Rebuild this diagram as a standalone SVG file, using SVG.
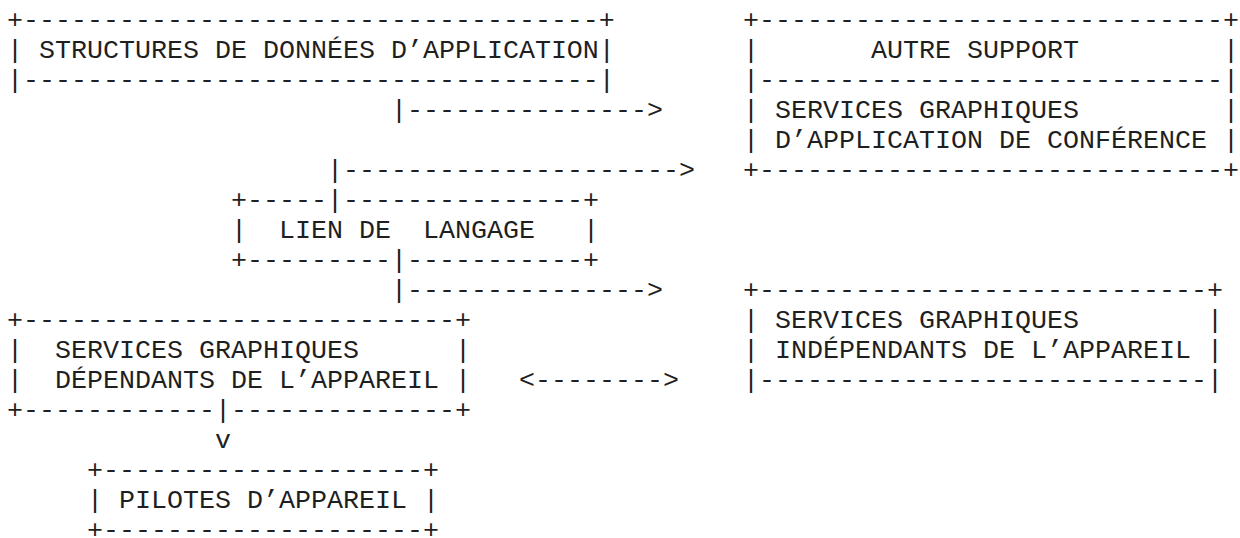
<svg xmlns="http://www.w3.org/2000/svg" width="1240" height="538" viewBox="0 0 1240 538">
<style>
text{font-family:"Liberation Mono","Courier New",monospace;font-size:26.667px;fill:#1f1f1f;white-space:pre}
</style>
<rect width="1240" height="538" fill="#ffffff"/>
<g id="node-structures" xml:space="preserve">
<text x="7" y="28">+------------------------------------+</text>
<text x="7" y="58">| STRUCTURES DE DONNÉES D’APPLICATION|</text>
<text x="7" y="88">|------------------------------------|</text>
</g>
<g id="node-autre-support" xml:space="preserve">
<text x="743" y="28">+-----------------------------+</text>
<text x="743" y="58">|       AUTRE SUPPORT         |</text>
<text x="743" y="88">|-----------------------------|</text>
<text x="743" y="118">| SERVICES GRAPHIQUES         |</text>
<text x="743" y="148">| D’APPLICATION DE CONFÉRENCE |</text>
<text x="743" y="178">+-----------------------------+</text>
</g>
<g id="node-lien-langage" xml:space="preserve">
<text x="231" y="208">+-----|---------------+</text>
<text x="231" y="238">|  LIEN DE  LANGAGE   |</text>
<text x="231" y="268">+---------|-----------+</text>
</g>
<g id="node-independants" xml:space="preserve">
<text x="743" y="298">+----------------------------+</text>
<text x="743" y="328">| SERVICES GRAPHIQUES        |</text>
<text x="743" y="358">| INDÉPENDANTS DE L’APPAREIL |</text>
<text x="743" y="388">|----------------------------|</text>
</g>
<g id="node-dependants" xml:space="preserve">
<text x="7" y="328">+---------------------------+</text>
<text x="7" y="358">|  SERVICES GRAPHIQUES      |</text>
<text x="7" y="388">|  DÉPENDANTS DE L’APPAREIL |</text>
<text x="7" y="418">+------------|--------------+</text>
</g>
<g id="node-pilotes" xml:space="preserve">
<text x="87" y="478">+--------------------+</text>
<text x="87" y="508">| PILOTES D’APPAREIL |</text>
<text x="87" y="538">+--------------------+</text>
</g>
<g id="connectors" xml:space="preserve">
<text x="391" y="118">|--------------->
</text>
<text x="327" y="178">|--------------------->
</text>
<text x="391" y="298">|--------------->
</text>
<text x="519" y="388">&lt;--------&gt;</text>
<text x="215" y="448">v</text>
</g>
</svg>
